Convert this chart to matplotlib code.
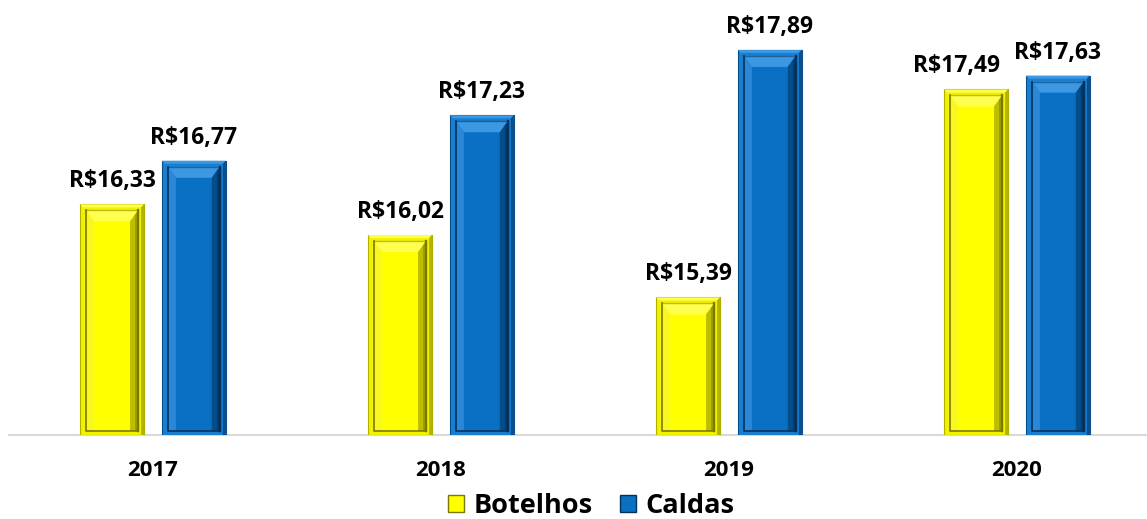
import numpy as np
import matplotlib
matplotlib.use("Agg")
import matplotlib.pyplot as plt
from matplotlib.patches import Polygon, Rectangle, Patch

# dados
anos = ["2017", "2018", "2019", "2020"]
botelhos = [16.33, 16.02, 15.39, 17.49]
caldas = [16.77, 17.23, 17.89, 17.63]
series = ["Botelhos", "Caldas"]

plt.rcParams["font.family"] = ["Open Sans", "DejaVu Sans"]

# cores: face, aro, topo claro, esquerda, direita escura, linha interna
cores = {
    "Botelhos": dict(face="#FFFF00", aro="#F2F200", topo="#FFFF50", esq="#F8F820",
                     dir="#9C9C00", linha="#7A7A00", borda="#B0B000"),
    "Caldas": dict(face="#0A70C4", aro="#1A7ED0", topo="#3C98E2", esq="#2A88D6",
                   dir="#003C6E", linha="#00325C", borda="#0A4E8A"),
}

W, H = 1147, 519
fig = plt.figure(figsize=(W / 100, H / 100), dpi=100)
ax = fig.add_axes([0, (H - 435) / H, 1, 435 / H])

x = np.arange(len(anos))
largura = 0.222
desloc = 0.142
ymin = 14.0
ymax = ymin + 435 / 99
ax.set_xlim(-153 / 288, (W - 153) / 288)
ax.set_ylim(ymin, ymax)

px_x = 1 / 288  # unidades por pixel
px_y = (ymax - ymin) / 435


def poly(pts, fc, z=3, a=1.0):
    ax.add_patch(Polygon(pts, closed=True, fc=fc, ec="none", alpha=a, zorder=z))


def barra_chanfrada(xc, valor, c, dx_rotulo=0.0):
    x0, x1 = xc - largura / 2, xc + largura / 2
    y0, y1 = ymin, valor
    ax.bar(xc, valor - ymin, largura, bottom=ymin, color=c["aro"],
           edgecolor=c["borda"], linewidth=0.8, zorder=2)
    # aro externo: topo claro, direita escura
    poly([(x0, y1), (x1, y1), (x1 - 3 * px_x, y1 - 3 * px_y), (x0 + 3 * px_x, y1 - 3 * px_y)], c["topo"])
    poly([(x1, y1), (x1 - 3 * px_x, y1 - 3 * px_y), (x1 - 3 * px_x, y0), (x1, y0)], c["dir"], a=0.7)
    # moldura interna
    ix0, ix1 = x0 + 6 * px_x, x1 - 6 * px_x
    iy0, iy1 = y0 + 4 * px_y, y1 - 6 * px_y
    ax.add_patch(Rectangle((ix0, iy0), ix1 - ix0, iy1 - iy0, fc=c["face"], ec="none", zorder=3))
    ax.plot([ix0, ix1, ix1], [iy1, iy1, iy0], color=c["linha"], lw=1.0, zorder=4, alpha=0.5)
    ax.plot([ix0, ix0, ix1], [iy1, iy0, iy0], color=c["linha"], lw=1.2, zorder=4)
    ax.plot([ix1, ix1], [iy1, iy0], color=c["linha"], lw=1.6, zorder=4)
    # chanfro interno
    bx, by = 8 * px_x, 11 * px_y
    jx0, jx1, jy1 = ix0 + bx, ix1 - bx, iy1 - by
    poly([(ix0, iy1), (ix1, iy1), (jx1, jy1), (jx0, jy1)], c["topo"])
    poly([(ix0, iy1), (jx0, jy1), (jx0, iy0), (ix0, iy0)], c["esq"])
    poly([(ix1, iy1), (jx1, jy1), (jx1, iy0), (ix1, iy0)], c["dir"])
    poly([(ix1 - 3 * px_x, iy1 - 2 * px_y), (jx1, jy1), (jx1, iy0), (ix1 - 3 * px_x, iy0)], c["face"], a=0.35)
    ax.text(xc + dx_rotulo * px_x, valor + 11 * px_y, f"R${valor:.2f}".replace(".", ","),
            ha="center", va="bottom", fontsize=16.5, fontweight="bold", zorder=5)


for i in range(len(anos)):
    # rótulo de Botelhos em 2020 deslocado para não colidir
    barra_chanfrada(x[i] - desloc, botelhos[i], cores["Botelhos"], -20 if i == 3 else 0)
    barra_chanfrada(x[i] + desloc, caldas[i], cores["Caldas"])

# linha de base
ax.plot([-0.5, 3.55], [ymin, ymin], color="#D9D9D9", lw=1.5, zorder=1, clip_on=False)

for s in ax.spines.values():
    s.set_visible(False)
ax.set_yticks([])
ax.set_xticks([])
for i, ano in enumerate(anos):
    ax.text(x[i], ymin - 36 * px_y, ano, ha="center", va="center",
            fontsize=16, fontweight="bold")

handles = [Patch(facecolor=cores[s]["face"], edgecolor=cores[s]["linha"]) for s in series]
fig.legend(handles, series, loc="center", bbox_to_anchor=(591 / W, 1 - 506 / H),
           ncol=2, frameon=False, prop=dict(size=19.5, weight="bold"),
           handlelength=0.6, handleheight=0.6, handletextpad=0.35, columnspacing=1.0,
           borderpad=0.0)

fig.savefig("out.png", dpi=100)
